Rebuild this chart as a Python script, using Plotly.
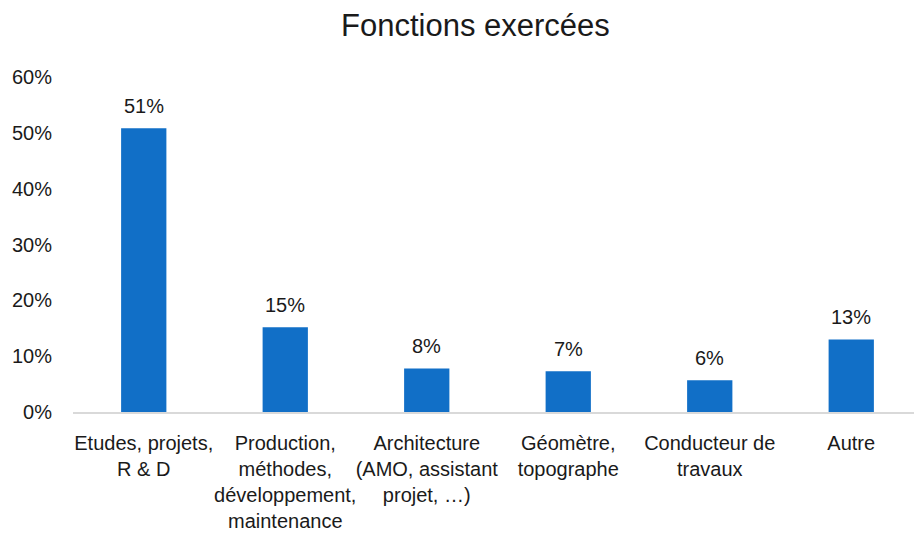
import plotly.graph_objects as go

categories = [
    "Etudes, projets,<br>R & D",
    "Production,<br>méthodes,<br>développement,<br>maintenance",
    "Architecture<br>(AMO, assistant<br>projet, …)",
    "Géomètre,<br>topographe",
    "Conducteur de<br>travaux",
    "Autre",
]
values = [0.508, 0.152, 0.078, 0.073, 0.057, 0.130]
y_ticks = [0, 0.1, 0.2, 0.3, 0.4, 0.5, 0.6]
y_tick_labels = ["0%", "10%", "20%", "30%", "40%", "50%", "60%"]
title_text = "Fonctions exercées"

FONT = "Liberation Sans, Arial, sans-serif"
TEXT_COLOR = "#1a1a1a"
BAR_COLOR = "#116fc7"

fig = go.Figure()
fig.add_trace(go.Bar(
    x=categories,
    y=values,
    marker=dict(color=BAR_COLOR, line=dict(width=0)),
    width=0.32,
    hoverinfo="x+y",
))

for c, v in zip(categories, values):
    fig.add_annotation(
        x=c, y=v, text=f"{round(v*100):d}%",
        showarrow=False, yanchor="bottom", yshift=9,
        font=dict(family=FONT, size=20, color=TEXT_COLOR),
    )

fig.update_layout(
    width=922, height=542,
    margin=dict(l=65, r=8, t=69, b=138, autoexpand=False),
    paper_bgcolor="white", plot_bgcolor="white",
    title=dict(text=title_text, x=0.507, xanchor="center", y=0.968, yanchor="middle",
               font=dict(family=FONT, size=31, color=TEXT_COLOR)),
    font=dict(family=FONT, size=20, color=TEXT_COLOR),
    showlegend=False,
    xaxis=dict(
        showline=True, linecolor="#d9d9d9", linewidth=2,
        ticks="", tickangle=0, automargin=False,
        tickfont=dict(family=FONT, size=20, color=TEXT_COLOR),
        ticklabelstandoff=12,
        showgrid=False, zeroline=False,
    ),
    yaxis=dict(
        range=[0, 0.6], tickvals=y_ticks, ticktext=y_tick_labels,
        showgrid=False, zeroline=False, showline=False, ticks="",
        automargin=False,
        tickfont=dict(family=FONT, size=20, color=TEXT_COLOR),
        ticklabelstandoff=20,
    ),
)

fig.write_html("out.html")
